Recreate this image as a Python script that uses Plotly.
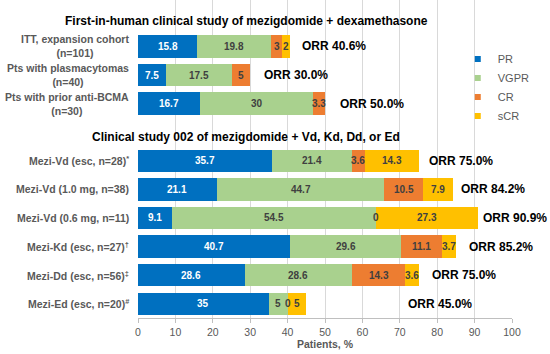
import plotly.graph_objects as go

# ---------------- data ----------------
rows = [
    "ITT, expansion cohort<br>(n=101)",
    "Pts with plasmacytomas<br>(n=40)",
    "Pts with prior anti-BCMA<br>(n=30)",
    "Mezi-Vd (esc, n=28)<sup>*</sup>",
    "Mezi-Vd (1.0 mg, n=38)",
    "Mezi-Vd (0.6 mg, n=11)",
    "Mezi-Kd (esc, n=27)<sup>†</sup>",
    "Mezi-Dd (esc, n=56)<sup>‡</sup>",
    "Mezi-Ed (esc, n=20)<sup>#</sup>",
]
group_titles = [
    "First-in-human clinical study of mezigdomide + dexamethasone",
    "Clinical study 002 of mezigdomide + Vd, Kd, Dd, or Ed",
]
PR = [15.8, 7.5, 16.7, 35.7, 21.1, 9.1, 40.7, 28.6, 35]
VGPR = [19.8, 17.5, 30, 21.4, 44.7, 54.5, 29.6, 28.6, 5]
CR = [3, 5, 3.3, 3.6, 10.5, 0, 11.1, 14.3, 0]
sCR = [2, None, None, 14.3, 7.9, 27.3, 3.7, 3.6, 5]
ORR = ["40.6%", "30.0%", "50.0%", "75.0%", "84.2%", "90.9%", "85.2%", "75.0%", "45.0%"]
x_ticks = [0, 10, 20, 30, 40, 50, 60, 70, 80, 90, 100]

# ---------------- style ----------------
series = [("PR", PR, "#0070C0", "white"),
          ("VGPR", VGPR, "#A9D18E", "#404040"),
          ("CR", CR, "#ED7D31", "#404040"),
          ("sCR", sCR, "#FFC000", "#404040")]
orr_gap = [10, 12, 13, 8, 6, 3, 11, 11, 100]
FONT = "Liberation Sans, Arial, sans-serif"
GREY = "#595959"

T1, T2 = " ", "  "
cat_order = [T1] + rows[:3] + [T2] + rows[3:]

fig = go.Figure()
for name, vals, color, tcol in series:
    fig.add_trace(go.Bar(
        y=rows, x=[v if v is not None else 0 for v in vals], orientation="h",
        marker=dict(color=color, line=dict(width=0)), width=0.78,
        showlegend=False, hoverinfo="x+name", name=name))
# legend entries (small square markers)
for name, vals, color, tcol in series:
    fig.add_trace(go.Scatter(x=[None], y=[None], mode="markers", name=name,
                             marker=dict(symbol="square", size=6, color=color)))

annotations = []
# segment labels
for i, r in enumerate(rows):
    start = 0
    for name, vals, color, tcol in series:
        v = vals[i]
        if v is None:
            continue
        annotations.append(dict(
            x=start + v / 2, y=r, xref="x", yref="y", text=f"{v:g}",
            showarrow=False, font=dict(family=FONT, size=10, color=tcol,
                                       weight="bold")))
        start += v
    # ORR label
    annotations.append(dict(
        x=start, y=r, xref="x", yref="y", text=f"ORR {ORR[i]}",
        xanchor="left", xshift=orr_gap[i], showarrow=False,
        font=dict(family=FONT, size=12, color="black", weight="bold")))
    # row label
    annotations.append(dict(
        x=0, y=r, xref="paper", yref="y", text=r, xanchor="right",
        align="center", xshift=-7, showarrow=False,
        font=dict(family=FONT, size=10.5, color=GREY, weight="bold")))

# group titles
for cat, title, ys in [(T1, group_titles[0], -3), (T2, group_titles[1], -5)]:
    annotations.append(dict(
        x=0.29, y=cat, xref="paper", yref="y", text=title, yshift=ys,
        xanchor="center", showarrow=False,
        font=dict(family=FONT, size=12, color="black", weight="bold")))

fig.update_layout(
    width=550, height=354,
    margin=dict(l=138, r=38, t=0, b=36, autoexpand=False),
    paper_bgcolor="white", plot_bgcolor="white",
    barmode="stack", bargap=0.2,
    font=dict(family=FONT, color=GREY),
    annotations=annotations,
    legend=dict(x=0.855, y=0.86, xanchor="left", yanchor="top",
                traceorder="normal", bgcolor="rgba(0,0,0,0)",
                font=dict(family=FONT, size=11, color=GREY),
                itemwidth=30, tracegroupgap=0),
    xaxis=dict(range=[0, 100], tickvals=x_ticks, showgrid=True,
               gridcolor="#D9D9D9", gridwidth=1, zeroline=False,
               showline=True, linecolor="#BFBFBF", ticks="outside",
               ticklen=4, tickcolor="#BFBFBF",
               tickfont=dict(family=FONT, size=10.5, color=GREY),
               title=dict(text="<b>Patients, %</b>", standoff=2,
                          font=dict(family=FONT, size=10.5, color=GREY)),
               automargin=False),
    yaxis=dict(type="category", categoryorder="array", categoryarray=cat_order,
               range=[10.5, -0.625], showticklabels=False, showgrid=False,
               zeroline=False, showline=False, automargin=False),
)

fig.write_html("out.html",
               config={"displayModeBar": False},
               post_script="document.body.style.margin='0';"
                           "document.body.style.overflow='hidden';")
